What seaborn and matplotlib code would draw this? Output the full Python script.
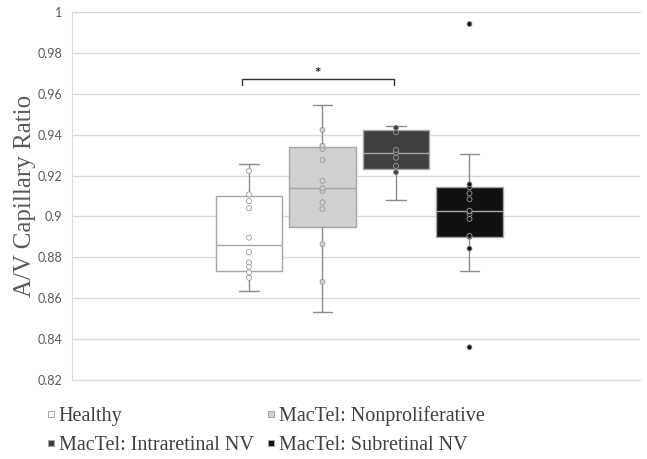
import numpy as np
import pandas as pd
import matplotlib
matplotlib.use('Agg')
import matplotlib.pyplot as plt
from matplotlib.lines import Line2D
import seaborn as sns

# --- data ---
groups = ['Healthy', 'MacTel: Nonproliferative', 'MacTel: Intraretinal NV', 'MacTel: Subretinal NV']
colors = ['#ffffff', '#d0d0d0', '#404040', '#111111']

healthy = [0.8637, 0.8700, 0.8726, 0.8755, 0.8775, 0.8825, 0.8896, 0.9040, 0.9075, 0.9108, 0.9222, 0.9258]
nonprolif = [0.8534, 0.8680, 0.8864, 0.9037, 0.9069, 0.9125, 0.9138, 0.9174, 0.9276, 0.9330, 0.9346, 0.9423, 0.9545]
intraretinal = [0.9079, 0.9216, 0.9247, 0.9287, 0.9312, 0.9325, 0.9412, 0.9434, 0.9443]
subretinal = [0.8360, 0.8733, 0.8843, 0.8900, 0.8905, 0.8988, 0.9012, 0.9025, 0.9028, 0.9084,
              0.9113, 0.9143, 0.9157, 0.9306, 0.9941]
values = [healthy, nonprolif, intraretinal, subretinal]

y_ticks = [0.82, 0.84, 0.86, 0.88, 0.90, 0.92, 0.94, 0.96, 0.98, 1.00]

# Excel style box stats (exclusive quartiles)
stats = []
shown = []
for name, v in zip(groups, values):
    v = np.array(v)
    q1, med, q3 = np.percentile(v, [25, 50, 75], method='weibull')
    iqr = q3 - q1
    lo = v[v >= q1 - 1.5 * iqr].min()
    hi = v[v <= q3 + 1.5 * iqr].max()
    stats.append(dict(med=med, q1=q1, q3=q3, whislo=lo, whishi=hi, fliers=[]))
    # Excel hides the points sitting on the whisker ends
    keep = v[(v != lo) & (v != hi)]
    shown.append(pd.DataFrame({'group': name, 'value': keep}))
pts = pd.concat(shown, ignore_index=True)

sns.set_style('white')
plt.rcParams['font.family'] = ['Lato', 'DejaVu Sans']
serif = ['Liberation Serif', 'DejaVu Serif']

fig = plt.figure(figsize=(6.47, 4.59), dpi=100)
ax = fig.add_axes([72 / 647, 1 - 380 / 459, 568 / 647, 368 / 459])

edge = '#a6a6a6'
bp = ax.bxp(stats, positions=range(len(groups)), widths=0.9, patch_artist=True,
            showfliers=False, capwidths=0.27, manage_ticks=False,
            boxprops=dict(edgecolor=edge, linewidth=1.0),
            medianprops=dict(color=edge, linewidth=1.0),
            whiskerprops=dict(color='#8c8c8c', linewidth=1.0),
            capprops=dict(color='#8c8c8c', linewidth=1.0), zorder=2)
for box, c in zip(bp['boxes'], colors):
    box.set_facecolor(c)

sns.stripplot(data=pts, x='group', y='value', hue='group', order=groups, hue_order=groups,
              palette=dict(zip(groups, colors)), jitter=False, size=3.6, linewidth=0.6,
              edgecolor='#999999', legend=False, zorder=4, ax=ax)

# significance bracket Healthy vs Intraretinal NV
xa, xb = 0 - 0.1, 2 - 0.03
yb = 0.967
ax.plot([xa, xa, xb, xb], [yb - 0.0027, yb, yb, yb - 0.0027], color='#303030', lw=1.0)
ax.text((xa + xb) / 2, yb - 0.0008, '*', ha='center', va='bottom', fontsize=11,
        fontweight='bold', color='#202020')

ax.set_xlim(-2.408, 5.32)
ax.set_ylim(0.82, 1.0)
ax.set_yticks(y_ticks)
ax.set_yticklabels(['{:g}'.format(round(t, 2)) for t in y_ticks])
ax.tick_params(axis='y', length=0, pad=7, labelsize=9, labelcolor='#595959')
ax.set_xticks([])
ax.set_xlabel('')
ax.grid(axis='y', color='#d9d9d9', lw=1.0)
ax.set_axisbelow(True)
for s in ['top', 'bottom', 'left']:
    ax.spines[s].set_color('#d9d9d9')
ax.spines['right'].set_visible(False)

ax.set_ylabel('A/V Capillary Ratio', family=serif, fontsize=18, color='#595959')
ax.yaxis.set_label_coords(-0.064, 0.5)

# legend below: Healthy, Intraretinal | Nonproliferative, Subretinal
order = [0, 2, 1, 3]
handles = [Line2D([], [], marker='s', ls='none', markersize=4.8, markerfacecolor=colors[i],
                  markeredgecolor='#a6a6a6', markeredgewidth=0.7) for i in order]
fig.legend(handles, [groups[i] for i in order], ncol=2, loc='center',
           bbox_to_anchor=(0.41, 0.062), frameon=False, handlelength=0.5,
           handletextpad=0.15, columnspacing=0.6, labelspacing=0.5,
           prop=dict(family=serif, size=14.5), labelcolor='#404040')

fig.savefig('out.png', dpi=100)
